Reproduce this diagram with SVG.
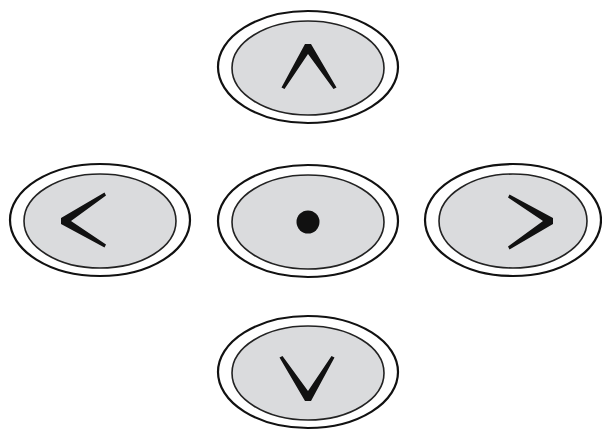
<svg xmlns="http://www.w3.org/2000/svg" xmlns:xlink="http://www.w3.org/1999/xlink" width="602" height="430" viewBox="0 0 602 430">
<style>
.outer{fill:#fff;stroke:#111;stroke-width:2.2}
.inner{fill:#dadbdd;stroke:#222;stroke-width:1.6}
.glyph{fill:#111}
</style>
<defs>
<path id="chev" d="M -26.5,42.5 L -3,-1 L 3,-1 L 28.5,42.5 L 25.5,44 L 0,9 L -23.5,44 Z"/>
</defs>
<rect width="602" height="430" fill="#fff"/>
<g id="btn-up">
<ellipse class="outer" cx="308" cy="67" rx="90" ry="56"/>
<ellipse class="inner" cx="308" cy="68" rx="76" ry="47"/>
<use class="glyph" xlink:href="#chev" transform="translate(308,45)"/>
</g>
<g id="btn-left">
<ellipse class="outer" cx="100" cy="220" rx="90" ry="56"/>
<ellipse class="inner" cx="100" cy="221" rx="76" ry="47"/>
<use class="glyph" xlink:href="#chev" transform="translate(62,221) rotate(-90)"/>
</g>
<g id="btn-center">
<ellipse class="outer" cx="308" cy="221" rx="90" ry="56"/>
<ellipse class="inner" cx="308" cy="222" rx="76" ry="47"/>
<circle class="glyph" cx="308" cy="222" r="11.5"/>
</g>
<g id="btn-right">
<ellipse class="outer" cx="513" cy="220" rx="88" ry="56"/>
<ellipse class="inner" cx="513" cy="221" rx="74" ry="47"/>
<use class="glyph" xlink:href="#chev" transform="translate(552,221) rotate(90)"/>
</g>
<g id="btn-down">
<ellipse class="outer" cx="308" cy="372" rx="90" ry="56"/>
<ellipse class="inner" cx="308" cy="373" rx="76" ry="47"/>
<use class="glyph" xlink:href="#chev" transform="translate(308,400) rotate(180)"/>
</g>
<g id="connectors"/>
</svg>
